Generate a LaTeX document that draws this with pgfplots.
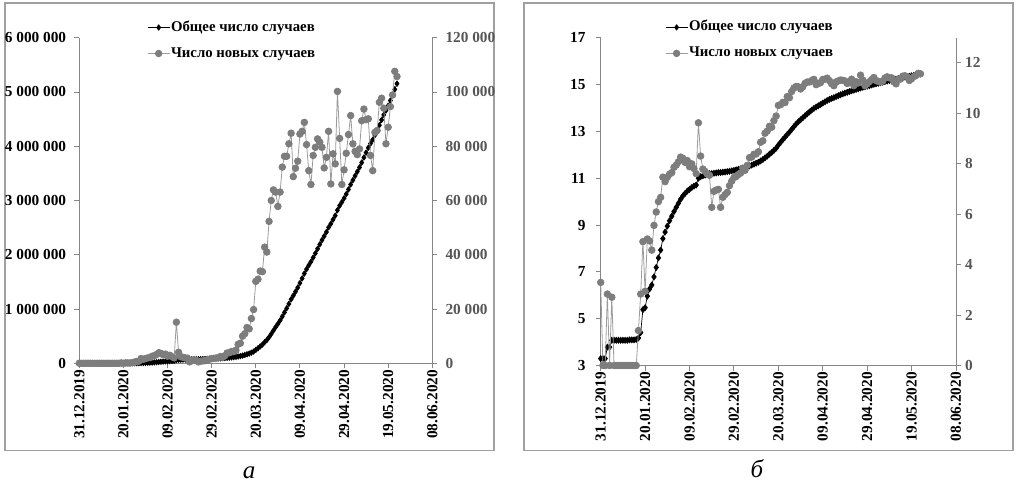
\documentclass[border=0pt]{standalone}
\usepackage{pgfplots}
\pgfplotsset{compat=1.18}
\usepackage{pgfplotstable}
\usepackage{fontspec}
\setmainfont{Liberation Serif}

\definecolor{axisgray}{RGB}{134,134,134}
\definecolor{framegray}{RGB}{160,160,160}
\definecolor{newgray}{RGB}{125,125,125}
\definecolor{newline}{RGB}{155,155,155}
\definecolor{rlabel}{RGB}{85,85,85}

% day 0 = 31.12.2019; cumulative and daily new cases, world
\pgfplotstableread{
day total new
0 27 27
1 27 0
2 27 0
3 44 17
4 44 0
5 59 15
6 59 0
7 59 0
8 59 0
9 59 0
10 59 0
11 59 0
12 59 0
13 60 1
14 60 0
15 60 0
16 61 1
17 65 4
18 82 17
19 218 136
20 237 19
21 388 151
22 528 140
23 625 97
24 884 259
25 1325 441
26 1990 665
27 2777 787
28 4530 1753
29 5996 1466
30 7736 1740
31 9716 1980
32 11818 2102
33 14408 2590
34 17237 2829
35 20472 3235
36 24359 3887
37 28053 3694
38 31204 3151
39 34589 3385
40 37241 2652
41 40214 2973
42 42681 2467
43 44696 2015
44 59837 15141
45 63887 4050
46 66307 2420
47 68507 2200
48 70487 1980
49 72377 1890
50 72907 530
51 73907 1000
52 74957 1050
53 76037 1080
54 76567 530
55 77357 790
56 78237 880
57 79197 960
58 80447 1250
59 81947 1500
60 83677 1730
61 85477 1800
62 87427 1950
63 89487 2060
64 91987 2500
65 94287 2300
66 97087 2800
67 100887 3800
68 104787 3900
69 109137 4350
70 113537 4400
71 118337 4800
72 125337 7000
73 132737 7400
74 142737 10000
75 153637 10900
76 166837 13200
77 179537 12700
78 196037 16500
79 215837 19800
80 246037 30200
81 277037 31000
82 311037 34000
83 344837 33800
84 387637 42800
85 428637 41000
86 480937 52300
87 540937 60000
88 604837 63900
89 667937 63100
90 725737 57800
91 788837 63100
92 861137 72300
93 937437 76300
94 1013737 76300
95 1094637 80900
96 1179437 84800
97 1248237 68800
98 1320137 71900
99 1394637 74500
100 1479137 84500
101 1564637 85500
102 1653437 88800
103 1734037 80600
104 1805037 71000
105 1870937 65900
106 1947537 76600
107 2027137 79600
108 2109837 82700
109 2191337 81500
110 2270937 79600
111 2342937 72000
112 2418837 75900
113 2504337 85500
114 2570437 66100
115 2647637 77200
116 2721137 73500
117 2821337 100200
118 2904237 82900
119 2970137 65900
120 3041437 71300
121 3118837 77400
122 3203137 84300
123 3294437 91300
124 3375337 80900
125 3453437 78100
126 3530337 76900
127 3609337 79000
128 3698737 89400
129 3792437 93700
130 3882237 89800
131 3972337 90100
132 4048937 76600
133 4119937 71000
134 4205037 85100
135 4290837 85800
136 4387037 96200
137 4484737 97700
138 4578737 94000
139 4659637 80900
140 4746637 87000
141 4841237 94600
142 4940137 98900
143 5047737 107600
144 5153437 105700
}\covid

\pgfplotsset{
  panel/.style={
    scale only axis, clip=false,
    xmin=0, xmax=160,
    xtick={0,20,40,60,80,100,120,140,160},
    xticklabels={31.12.2019,20.01.2020,09.02.2020,29.02.2020,20.03.2020,09.04.2020,29.04.2020,19.05.2020,08.06.2020},
    tick align=outside, major tick length=5pt,
    axis line style={axisgray, line width=0.9pt},
    tick style={axisgray, line width=0.9pt},
    ticklabel style={font=\fontsize{15.3}{18}\selectfont\bfseries},
    xticklabel style={rotate=90, anchor=east, inner sep=1.5pt},
    yticklabel style={inner sep=2pt},
    scaled y ticks=false,
  },
  leftpanel/.style={panel, axis x line*=bottom, axis y line*=left},
  rightpanel/.style={panel, axis x line=none, axis y line*=right,
    yticklabel style={text=rlabel}},
  totalstyle/.style={black, line width=0.7pt, mark=diamond*, mark size=2.7pt,
    mark options={solid, fill=black, draw=black}},
  newstyle/.style={newline, line width=0.8pt, mark=*, mark size=3.3pt,
    mark options={solid, fill=newgray, draw=newgray}},
  legendbox/.style={legend style={draw=none, fill=none, inner sep=0pt,
      font=\fontsize{14.8}{18}\selectfont\bfseries, row sep=9pt,
      nodes={inner sep=1pt, text height=11pt, text depth=4pt, anchor=west}},
    legend cell align=left,
    legend image code/.code={\draw[mark repeat=2, mark phase=2, ##1]
      plot coordinates {(0pt,0pt) (11pt,0pt) (22pt,0pt)};}},
}

\begin{document}
\begin{tikzpicture}
\path[use as bounding box] (0pt,0pt) rectangle (1015pt,483pt);
\draw[framegray, line width=1.2pt] (5pt,32.5pt) rectangle (494pt,480pt);
\draw[framegray, line width=1.2pt] (524pt,32.5pt) rectangle (1013pt,480pt);

% panel a: absolute numbers
\begin{axis}[leftpanel, at={(79.3pt,119.7pt)}, anchor=south west,
  width=353pt, height=325.6pt,
  yticklabel style={xshift=-6pt},
  ymin=0, ymax=6000000,
  ytick={0,1000000,2000000,3000000,4000000,5000000,6000000},
  yticklabels={0,1 000 000,2 000 000,3 000 000,4 000 000,5 000 000,6 000 000}]
\addplot[totalstyle] table[x=day, y=total] {\covid};
\end{axis}
\begin{axis}[rightpanel, legendbox, at={(79.3pt,119.7pt)}, anchor=south west,
  width=353pt, height=325.6pt,
  yticklabel style={xshift=6pt},
  ymin=0, ymax=120000,
  ytick={0,20000,40000,60000,80000,100000,120000},
  yticklabels={0,20 000,40 000,60 000,80 000,100 000,120 000},
  legend style={at={(0.192,1.058)}, anchor=north west}]
\addlegendimage{totalstyle}
\addlegendentry{Общее число случаев}
\addplot[newstyle] table[x=day, y=new] {\covid};
\addlegendentry{Число новых случаев}
\end{axis}

% panel b: natural logarithms of the same counts
\begin{axis}[leftpanel, at={(600.7pt,117.5pt)}, anchor=south west,
  width=355.3pt, height=327.8pt,
  yticklabel style={xshift=-8pt},
  ymin=3, ymax=17, ytick={3,5,7,9,11,13,15,17},
  yticklabels={3,5,7,9,11,13,15,17}]
\addplot[totalstyle, mark size=3pt] table[x=day, y expr={ln(\thisrow{total})}] {\covid};
\end{axis}
\begin{axis}[rightpanel, legendbox, at={(600.7pt,117.5pt)}, anchor=south west,
  width=355.3pt, height=327.8pt,
  yticklabel style={xshift=2pt},
  ymin=0, ymax=13, ytick={0,2,4,6,8,10,12},
  yticklabels={0,2,4,6,8,10,12},
  legend style={at={(0.181,1.058)}, anchor=north west}]
\addlegendimage{totalstyle}
\addlegendentry{Общее число случаев}
\addplot[newstyle] table[x=day, y expr={ln(max(\thisrow{new},1))}] {\covid};
\addlegendentry{Число новых случаев}
\end{axis}

\node[font=\fontsize{25}{29}\selectfont\itshape, anchor=base] at (249pt,5pt) {а};
\node[font=\fontsize{25}{29}\selectfont\itshape, anchor=base] at (757pt,6pt) {б};
\end{tikzpicture}
\end{document}
